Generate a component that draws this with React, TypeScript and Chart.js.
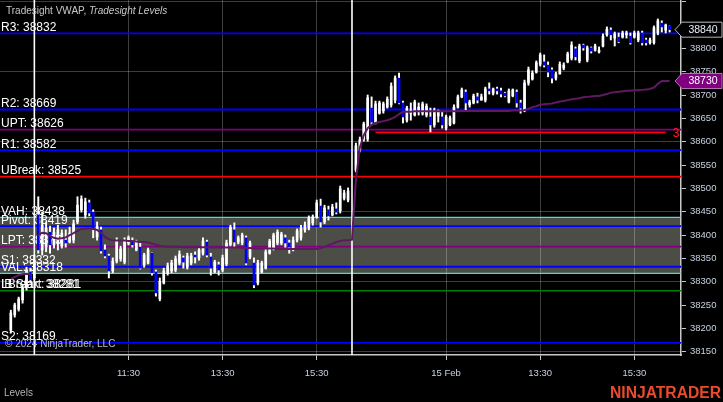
import React, { useEffect, useRef } from 'react';
import { Chart, registerables } from 'chart.js';
Chart.register(...registerables);

const FONT = "Arial, 'Liberation Sans', Helvetica, sans-serif";

// ---- 5-minute bars (index = bar number) ----
const opens = [
  38196,38229,38241,38261,38289,38321,38308,38443,38368,38374,
  38406,38379,38383,38376,38389,38385,38389,38428,38454,38443,
  38469,38449,38396,38411,38368,38355,38323,38344,38349,38342,
  38383,38385,38368,38374,38336,38340,38361,38321,38263,38297,
  38319,38323,38325,38340,38351,38331,38340,38357,38351,38361,
  38385,38353,38321,38336,38325,38338,38379,38411,38385,38383,
  38394,38353,38340,38297,38321,38329,38361,38372,38383,38383,
  38394,38383,38370,38389,38394,38411,38415,38426,38439,38462,
  38428,38454,38443,38456,38452,38479,38475,null,38539,38582,
  38604,38606,38672,38642,38661,38666,38674,38679,38689,38736,
  38683,38646,38661,38657,38668,38661,38657,38653,38636,38655,
  38653,38629,38636,38640,38674,38696,38706,38679,38683,38696,
  38689,38689,38713,38704,38713,38709,38704,38685,38698,38706,
  38683,38668,38726,38734,38749,38766,38771,38764,38754,38736,
  38745,38758,38771,38779,38799,38773,38807,38775,38801,38796,
  38792,38805,38829,38839,38822,38824,38824,38829,38826,38824,
  38818,38833,38818,38812,38812,38833,38854,38839,38848,
];
const highs = [
  38239,38254,38267,38293,38331,38329,38357,38482,38449,38428,
  38419,38415,38421,38411,38411,38417,38432,38482,38484,38479,
  38475,38454,38428,38417,38379,38359,38351,38394,38376,38394,
  38398,38394,38389,38383,38361,38372,38362,38325,38308,38329,
  38340,38346,38355,38366,38355,38361,38361,38364,38372,38394,
  38389,38361,38346,38342,38357,38389,38421,38426,38398,38404,
  38398,38387,38351,38346,38344,38370,38391,38404,38411,38406,
  38400,38389,38396,38413,38421,38428,38441,38443,38475,38477,
  38464,38462,38466,38469,38505,38496,38501,null,38597,38610,
  38642,38700,38696,38687,38687,38685,38696,38726,38741,38747,
  38687,38676,38683,38689,38683,38685,38681,38672,38672,38668,
  38664,38657,38655,38679,38700,38715,38711,38689,38702,38704,
  38702,38717,38726,38715,38717,38715,38706,38713,38713,38711,
  38689,38732,38760,38752,38773,38790,38786,38771,38758,38749,
  38771,38769,38792,38814,38803,38809,38809,38805,38803,38809,
  38803,38831,38846,38844,38835,38833,38837,38837,38833,38837,
  38837,38837,38822,38822,38848,38863,38859,38852,38848,
];
const lows = [
  38190,38224,38237,38254,38282,38297,38304,38361,38357,38364,
  38361,38372,38368,38372,38374,38383,38383,38424,38449,38436,
  38441,38394,38389,38361,38351,38308,38319,38340,38344,38338,
  38379,38374,38366,38327,38331,38338,38314,38269,38259,38295,
  38314,38319,38321,38336,38329,38327,38336,38340,38346,38357,
  38353,38314,38319,38314,38321,38334,38376,38374,38381,38379,
  38336,38349,38287,38293,38319,38327,38359,38368,38379,38379,
  38374,38361,38366,38385,38389,38406,38411,38421,38436,38417,
  38424,38432,38441,38445,38447,38475,38471,null,38535,38578,
  38601,38601,38636,38638,38659,38661,38672,38674,38683,38681,
  38640,38642,38646,38655,38657,38657,38653,38621,38631,38642,
  38629,38625,38634,38638,38672,38694,38668,38674,38681,38683,
  38689,38685,38702,38700,38702,38696,38696,38683,38696,38674,
  38661,38664,38721,38732,38747,38762,38760,38739,38726,38732,
  38745,38754,38769,38775,38775,38769,38796,38771,38790,38794,
  38790,38803,38826,38818,38805,38812,38822,38822,38809,38822,
  38814,38807,38807,38809,38809,38829,38835,38833,38835,
];
const closes = [
  38233,38250,38263,38286,38325,38304,38346,38368,38421,38415,
  38379,38406,38411,38404,38383,38404,38424,38464,38477,38471,
  38447,38415,38419,38366,38355,38323,38344,38387,38370,38387,
  38394,38379,38385,38329,38357,38368,38319,38276,38301,38323,
  38334,38340,38349,38359,38342,38355,38355,38353,38368,38387,
  38357,38329,38342,38325,38351,38383,38417,38385,38394,38400,
  38340,38383,38293,38340,38340,38364,38387,38400,38406,38402,
  38383,38374,38389,38409,38415,38421,38436,38439,38469,38428,
  38458,38441,38460,38449,38499,38490,38494,null,38591,38604,
  38638,38694,38642,38681,38683,38681,38691,38719,38736,38683,
  38653,38672,38668,38685,38674,38681,38676,38636,38666,38666,
  38636,38653,38651,38674,38696,38711,38683,38685,38698,38689,
  38696,38713,38709,38713,38709,38702,38698,38709,38711,38683,
  38672,38726,38754,38747,38769,38786,38764,38749,38736,38745,
  38766,38764,38788,38807,38782,38805,38801,38801,38794,38805,
  38796,38826,38841,38829,38831,38814,38833,38833,38812,38833,
  38833,38812,38812,38818,38844,38859,38846,38850,38840,
];

// ---- Tradesight VWAP (null = session reset) ----
const vwap = [
  38306,38310,38314,38316,38317,38316,null,38400,38405,38404,
  38398,38394,38392,38393,38395,38400,38404,38409,38413,38414,
  38414,38413,38411,38405,38396,38391,38389,38388,38388,38388,
  38387,38387,38386,38385,38385,38384,38382,38379,38377,38376,
  38375,38375,38375,38375,38374,38374,38374,38374,38374,38374,
  38374,38373,38373,38373,38373,38373,38373,38373,38373,38372,
  38372,38372,38371,38371,38371,38371,38371,38371,38370,38370,
  38370,38370,38370,38370,38370,38370,38370,38370,38370,38372,
  38374,38378,38381,38385,38387,38389,38389,38390,38518,38587,
  38614,38629,38636,38640,38642,38644,38646,38649,38653,38659,
  38664,38664,38664,38665,38665,38665,38665,38665,38665,38665,
  38665,38665,38665,38665,38665,38666,38666,38666,38666,38666,
  38666,38666,38666,38666,38666,38666,38666,38666,38667,38667,
  38667,38668,38670,38674,38676,38679,38680,38681,38682,38684,
  38686,38687,38689,38691,38692,38693,38695,38696,38697,38698,
  38698,38700,38702,38705,38706,38707,38708,38709,38709,38710,
  38710,38711,38712,38713,38716,38724,38730,38730,38730,
];

// ---- Tradesight Levels ----
const levelNames = ['R3', 'R2', 'UPT', 'R1', 'UBreak', 'VAH', 'Pivot', 'LPT', 'S1', 'VAL', 'IB Start', 'LBreak', 'S2'];
const levelValues = [38832, 38669, 38626, 38582, 38525, 38438, 38419, 38375, 38332, 38318, 38281, 38281, 38169];
const levelColors = ['#0000ff', '#0000ff', '#800080', '#0000ff', '#ff0000', '#40e0d0', '#0000ff', '#800080', '#0000ff', '#40e0d0', '#008000', '#008000', '#0000ff'];
const levelWidths = [1.8, 1.8, 1.8, 1.8, 1.8, 1.3, 1.8, 1.8, 1.8, 1.3, 1.3, 1.3, 1.8];

const targetValue = 38620;
const targetFrom = 93;
const targetTo = 167;
const targetText = '3';

const sessionBreaks = [6, 87];

// ---- axes ----
const xTickIndex = [30, 54, 78, 111, 135, 159];
const xTickLabels = ['11:30', '13:30', '15:30', '15 Feb', '13:30', '15:30'];
const yTickValues = [38150, 38200, 38250, 38300, 38350, 38400, 38450, 38500, 38550, 38600, 38650, 38700, 38750, 38800, 38850, 38900];
const yTickLabels = ['38150', '38200', '38250', '38300', '38350', '38400', '38450', '38500', '38550', '38600', '38650', '38700', '38750', '38800', '38850', ''];
const yGridValues = [38150, 38300, 38450, 38600, 38750, 38900];

const X_MIN = -2.76;
const X_MAX = 170.9;
const Y_MIN = 38142.9;
const Y_MAX = 38903.6;

const GRID = 'rgba(255,255,255,0.24)';
const AXIS = '#c8c8c8';
const TICKTXT = '#c8d2e0';
const VA_FILL = '#4d4d47';

function drawTag(ctx: CanvasRenderingContext2D, tipX: number, right: number, y: number, text: string, fill: string, stroke: string, color: string) {
  const h = 7.5;
  ctx.beginPath();
  ctx.moveTo(tipX, y);
  ctx.lineTo(tipX + 7, y - h);
  ctx.lineTo(right, y - h);
  ctx.lineTo(right, y + h);
  ctx.lineTo(tipX + 7, y + h);
  ctx.closePath();
  ctx.fillStyle = fill;
  ctx.fill();
  ctx.strokeStyle = stroke;
  ctx.lineWidth = 1;
  ctx.stroke();
  ctx.fillStyle = color;
  ctx.font = `10.5px ${FONT}`;
  ctx.textAlign = 'center';
  ctx.textBaseline = 'middle';
  ctx.fillText(text, (tipX + 7 + right) / 2 + 1, y + 0.5);
}

const overlayPlugin = {
  id: 'overlay',
  beforeDatasetDraw(chart: any, args: any) {
    const ds = chart.data.datasets[args.index];
    if (!ds || ds.label !== 'wicks') return;
    const { ctx } = chart;
    const y = chart.scales.y;
    ctx.save();
    ctx.font = `12px ${FONT}`;
    ctx.fillStyle = '#ffffff';
    ctx.textAlign = 'left';
    ctx.textBaseline = 'alphabetic';
    levelNames.forEach((nm, k) => {
      ctx.fillText(`${nm}: ${levelValues[k]}`, 1, y.getPixelForValue(levelValues[k]) - 2.5);
    });
    ctx.restore();
  },
  afterDraw(chart: any) {
    const { ctx, chartArea } = chart;
    const y = chart.scales.y;
    const x = chart.scales.x;
    ctx.save();
    // title
    ctx.textAlign = 'left';
    ctx.textBaseline = 'alphabetic';
    ctx.fillStyle = '#c8c8c8';
    ctx.font = `10px ${FONT}`;
    const t1 = 'Tradesight VWAP, ';
    ctx.fillText(t1, 6, 14);
    const w1 = ctx.measureText(t1).width;
    ctx.font = `italic 10px ${FONT}`;
    ctx.fillText('Tradesight Levels', 6 + w1, 14);
    // copyright
    ctx.font = `10px ${FONT}`;
    ctx.fillStyle = '#b8bcc8';
    ctx.fillText('\u00a9 2024 NinjaTrader, LLC', 5, 346.5);
    // bottom-left panel label
    ctx.fillStyle = '#b4b4b4';
    ctx.fillText('Levels', 4, 396);
    // target label
    ctx.fillStyle = '#ff2020';
    ctx.font = `12px ${FONT}`;
    ctx.fillText(targetText, x.getPixelForValue(targetTo) + 7, y.getPixelForValue(targetValue) + 5);
    // logo
    ctx.font = `bold 16px ${FONT}`;
    const logo = 'NINJATRADER';
    const lw = ctx.measureText(logo).width;
    ctx.fillStyle = '#ec4a2c';
    ctx.translate(610, 398);
    ctx.scale(111 / lw, 1);
    ctx.fillText(logo, 0, 0);
    ctx.setTransform(1, 0, 0, 1, 0, 0);
    // price tags
    const tipX = chartArea.right - 6;
    const lastIdx = closes.length - 1;
    const lastVw = vwap[vwap.length - 1] as number;
    drawTag(ctx, tipX, 722, y.getPixelForValue(closes[lastIdx] as number), String(closes[lastIdx]), '#000000', '#b4b4b4', '#e8eef5');
    drawTag(ctx, tipX, 722, y.getPixelForValue(lastVw), String(lastVw), '#800080', '#b070b0', '#ffffff');
    ctx.restore();
  },
};

export default function App() {
  const ref = useRef<HTMLCanvasElement>(null);
  useEffect(() => {
    document.body.style.margin = '0';
    document.body.style.background = '#000';
    const canvas = ref.current!;
    Chart.defaults.font.family = FONT;

    const idx: number[] = [];
    for (let i = 0; i < opens.length; i++) if (opens[i] != null) idx.push(i);
    const wickData = idx.map((i) => ({ x: i, y: [lows[i], highs[i]] }));
    const bodyData = idx.map((i) => ({ x: i, y: [opens[i], closes[i]] }));
    const bodyColors = idx.map((i) => ((closes[i] as number) >= (opens[i] as number) ? '#ffffff' : '#0000ff'));

    const levelSets = levelNames.map((nm, k) => ({
      type: 'line',
      label: nm,
      data: [{ x: X_MIN, y: levelValues[k] }, { x: X_MAX, y: levelValues[k] }],
      borderColor: levelColors[k],
      borderWidth: levelWidths[k],
      pointRadius: 0,
      order: 8,
      fill: nm === 'VAH' ? { value: levelValues[levelNames.indexOf('VAL')] } : false,
      backgroundColor: VA_FILL,
    }));

    const sessionSets = sessionBreaks.map((s) => ({
      type: 'line',
      label: 'session',
      data: [{ x: s, y: Y_MIN }, { x: s, y: Y_MAX }],
      borderColor: '#ffffff',
      borderWidth: 1.6,
      pointRadius: 0,
      order: 3,
      fill: false,
    }));

    const chart = new Chart(canvas, {
      type: 'bar',
      data: {
        datasets: [
          ...levelSets,
          {
            type: 'line',
            label: 'target',
            data: [{ x: targetFrom, y: targetValue }, { x: targetTo, y: targetValue }],
            borderColor: '#ff0000',
            borderWidth: 1.8,
            pointRadius: 0,
            order: 8,
            fill: false,
          },
          ...sessionSets,
          {
            type: 'bar',
            label: 'wicks',
            data: wickData,
            backgroundColor: '#ffffff',
            barThickness: 1.3,
            grouped: false,
            borderWidth: 0,
            order: 2,
          },
          {
            type: 'bar',
            label: 'bodies',
            data: bodyData,
            backgroundColor: bodyColors,
            barThickness: 2,
            grouped: false,
            borderWidth: 0,
            minBarLength: 1,
            order: 1,
          },
          {
            type: 'line',
            label: 'VWAP',
            data: vwap.map((v, i) => ({ x: i, y: v })),
            borderColor: '#5e1a60',
            borderWidth: 2,
            pointRadius: 0,
            spanGaps: false,
            order: 0,
            fill: false,
          },
        ] as any,
      },
      options: {
        responsive: false,
        animation: false,
        devicePixelRatio: 1,
        events: [],
        layout: { padding: 0 },
        plugins: {
          legend: { display: false },
          tooltip: { enabled: false },
          filler: { drawTime: 'beforeDraw' },
        } as any,
        scales: {
          x: {
            type: 'linear',
            min: X_MIN,
            max: X_MAX,
            offset: false,
            afterBuildTicks: (s: any) => {
              s.ticks = xTickIndex.map((v) => ({ value: v }));
            },
            afterFit: (s: any) => {
              s.height = 47;
              s.paddingLeft = 0;
              s.paddingRight = 0;
            },
            grid: { color: GRID, offset: false, drawTicks: true, tickLength: 5, tickColor: AXIS, lineWidth: 1 },
            border: { display: true, color: AXIS, width: 1.5 },
            ticks: {
              autoSkip: false,
              maxRotation: 0,
              padding: 8,
              color: TICKTXT,
              font: { size: 9.5 },
              callback: (_v: any, i: number) => xTickLabels[i] ?? '',
            },
          },
          y: {
            type: 'linear',
            position: 'right',
            min: Y_MIN,
            max: Y_MAX,
            afterBuildTicks: (s: any) => {
              s.ticks = yTickValues.map((v) => ({ value: v }));
            },
            afterFit: (s: any) => {
              s.width = 42;
              s.paddingTop = 0;
              s.paddingBottom = 0;
            },
            grid: {
              color: (c: any) => (c.tick && yGridValues.includes(c.tick.value) ? GRID : 'rgba(0,0,0,0)'),
              drawTicks: true,
              tickLength: 5,
              tickColor: AXIS,
            },
            border: { display: true, color: AXIS, width: 1.5 },
            ticks: {
              autoSkip: false,
              padding: 4,
              color: TICKTXT,
              font: { size: 9.5 },
              callback: (_v: any, i: number) => yTickLabels[i] ?? '',
            },
          },
        } as any,
      },
      plugins: [overlayPlugin],
    } as any);
    return () => chart.destroy();
  }, []);
  return (
    <div style={{ width: 723, height: 402, background: '#000' }}>
      <canvas ref={ref} width={723} height={402} style={{ display: 'block', background: '#000' }} />
    </div>
  );
}
